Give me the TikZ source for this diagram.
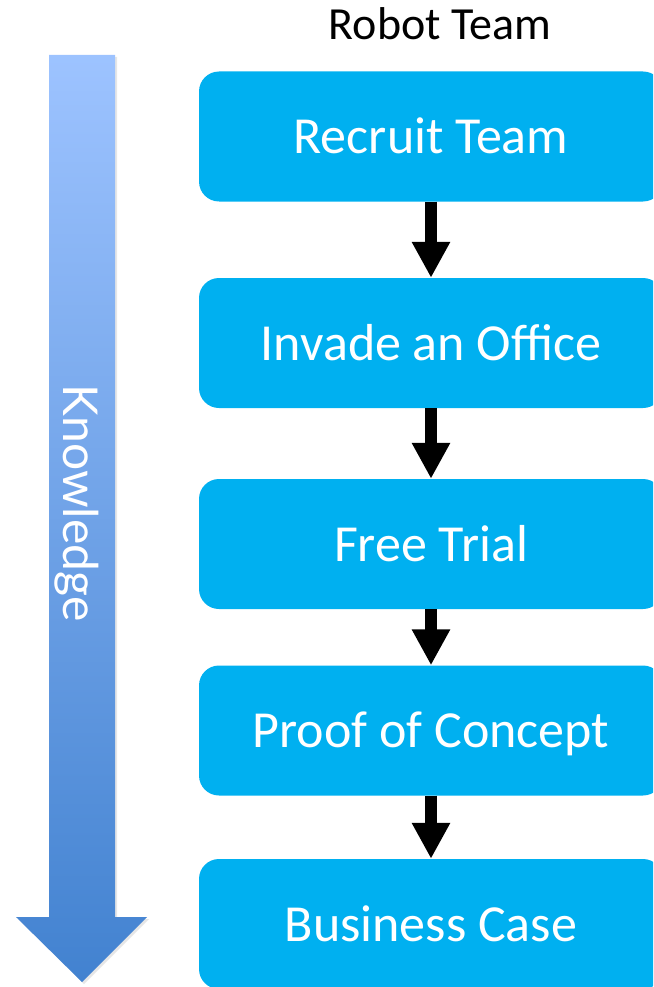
\documentclass[tikz,border=0pt]{standalone}
\usepackage{fontspec}
\setmainfont{Carlito}
\newfontfamily\knowfont{Lato}
\usetikzlibrary{arrows.meta,shadows}

\definecolor{stageblue}{HTML}{00B0F0}
\definecolor{knowtop}{HTML}{9DC3FF}
\definecolor{knowbot}{HTML}{4282D0}

\begin{document}
\begin{tikzpicture}[
        x=1pt, y=-1pt,
        stage/.style={fill=stageblue, rounded corners=20pt, minimum width=464pt,
          minimum height=130pt, inner sep=0pt, text=white,
          font=\fontsize{52}{60}\selectfont, text height=34pt, text depth=0pt},
        flow/.style={line width=12pt, -{Triangle[width=36pt,length=36pt]}}
      ]
        \useasboundingbox (0,0) rectangle (653,987);
        \clip (0,0) rectangle (653,987);

        % knowledge arrow
        \shade[top color=knowtop, bottom color=knowbot,
          drop shadow={shadow xshift=2pt, shadow yshift=-2pt, opacity=0.2}]
          (49,55) -- (115,55) -- (115,917) -- (147,917) -- (82,982)
          -- (16,917) -- (49,917) -- cycle;
        \node[rotate=-90, anchor=base, text=white,
          font=\knowfont\fontsize{48}{56}\selectfont] (know) at (63,503) {Knowledge};

        \node[font=\fontsize{46}{54}\selectfont, anchor=base] (title) at (440,40) {Robot Team};

        \node[stage] (recruit) at (431,136.5) {Recruit Team};
        \node[stage] (invade) at (431,343) {Invade an Office};
        \node[stage] (trial) at (431,544) {Free Trial};
        \node[stage] (proof) at (431,730.5) {Proof of Concept};
        \node[stage] (case) at (431,924) {Business Case};

        \draw[flow] (recruit.south) -- (invade.north);
        \draw[flow] (invade.south) -- (trial.north);
        \draw[flow] (trial.south) -- (proof.north);
        \draw[flow] (proof.south) -- (case.north);
      \end{tikzpicture}
\end{document}
